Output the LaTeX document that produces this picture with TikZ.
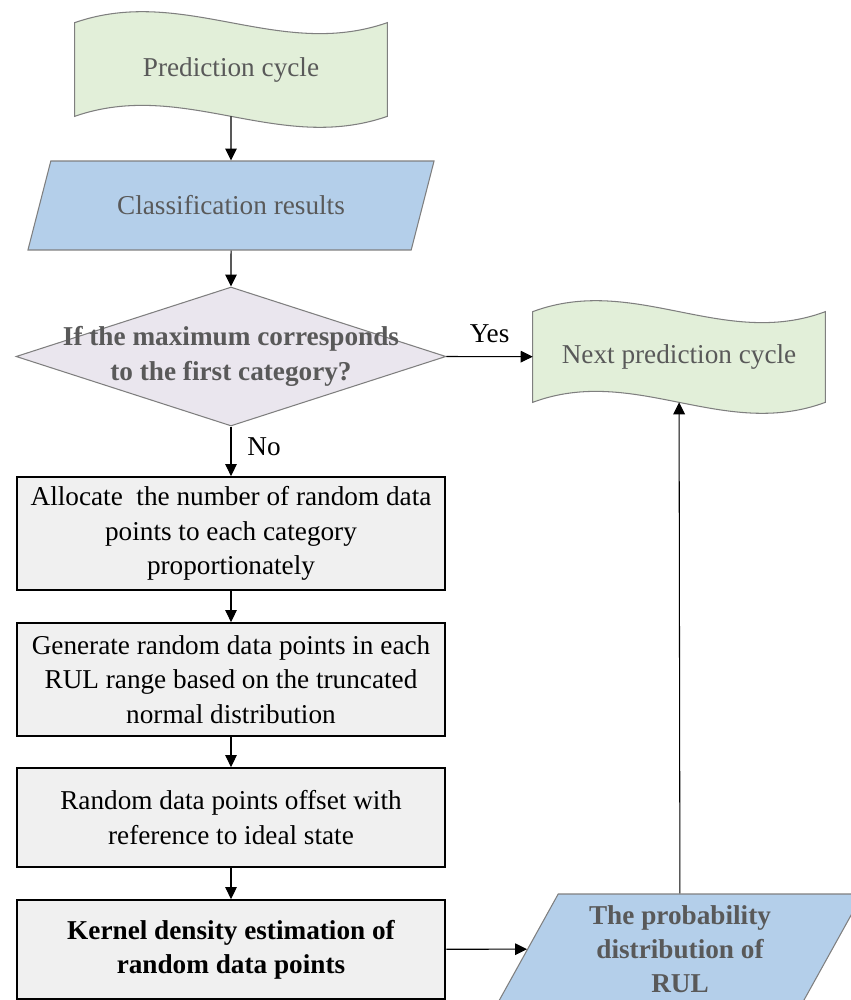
\documentclass[tikz,border=0pt]{standalone}
\usepackage{fontspec}
\setmainfont{Liberation Serif}
\usetikzlibrary{arrows.meta,positioning,shapes.geometric}

\definecolor{wavefill}{HTML}{E2EFD9}
\definecolor{datafill}{HTML}{B4CFEA}
\definecolor{condfill}{HTML}{EAE6EE}
\definecolor{boxfill}{HTML}{F0F0F0}
\definecolor{edge}{HTML}{7F7F7F}
\definecolor{soft}{HTML}{595959}

\pgfdeclarelayer{background}
\pgfsetlayers{background,main}

\begin{document}
\begin{tikzpicture}[
        x=0.02cm, y=-0.02cm,
        every node/.style={font=\fontsize{15.5}{19.5}\selectfont, align=center},
        wave/.style={rectangle, text=soft, minimum width=6.24cm, minimum height=1.86cm},
        waveline/.style={draw=edge, fill=wavefill, line width=0.6pt},
        data/.style={trapezium, trapezium left angle=64, trapezium right angle=116,
            trapezium stretches=true, draw=edge, fill=datafill, line width=0.6pt,
            text=soft},
        cond/.style={diamond, draw=edge, fill=condfill, line width=0.6pt,
            minimum width=8.6cm, minimum height=2.78cm, inner sep=0pt},
        condtext/.style={text=soft, align=center,
            font=\bfseries\fontsize{15.5}{19.5}\selectfont},
        box/.style={rectangle, draw=black, fill=boxfill, line width=1.1pt,
            minimum width=8.58cm, minimum height=2.26cm},
        flow/.style={-{Triangle[length=6.8pt,width=6.6pt]}, line width=0.6pt, black},
    ]
    \useasboundingbox (0,0) rectangle (851,1000);
    \clip (0,0) rectangle (851,1000);
    % top part
    \node[wave] (cyc) at (231,69.5) {Prediction cycle};
    \node[data, minimum width=8.14cm, minimum height=1.78cm] (cls) at (231,205.5)
        {Classification results};
    \node[cond, label={[condtext]center:{If the maximum corresponds\\to the first category?}}]
        (ask) at (231,356.5) {};
    \node[wave, minimum width=5.84cm, minimum height=1.8cm] (next) at (679,357)
        {Next prediction cycle};

    % wavy outlines behind the two cycle nodes
    \begin{pgfonlayer}{background}
        \foreach \n/\c in {cyc/109, next/102}
            \draw[waveline] (\n.north west) .. controls +(\c,-38) and +(-\c,38) .. (\n.north east)
                -- (\n.south east) .. controls +(-\c,38) and +(\c,-38) .. (\n.south west) -- cycle;
    \end{pgfonlayer}

    % processing steps
    \node[box] (alloc) at (231,533.5)
        {Allocate\ \ the number of random data\\points to each category\\proportionately};
    \node[box] (gen) at (231,679.5)
        {Generate random data points in each\\RUL range based on the truncated\\normal distribution};
    \node[box, minimum height=1.98cm] (shift) at (231,817.5)
        {Random data points offset with\\reference to ideal state};
    \node[box, minimum height=1.98cm, font=\bfseries\fontsize{15.5}{19.5}\selectfont] (kde) at (231,949.5)
        {Kernel density estimation of\\random data points};
    \node[data, minimum width=7.32cm, minimum height=2.2cm,
        font=\bfseries\fontsize{15.5}{19.5}\selectfont] (prob) at (680,949)
        {The probability\\distribution of\\RUL};

    % connectors
    \draw[flow] (cyc) -- (cls);
    \draw[flow] (cls) -- (ask);
    \draw[flow] (ask.east) -- node[above=0.15cm] {Yes} (next);
    \draw[flow] (ask.south) -- node[pos=0.4, right=0.2cm] {No} (alloc);
    \draw[flow] (alloc) -- (gen);
    \draw[flow] (gen) -- (shift);
    \draw[flow] (shift) -- (kde);
    \draw[flow] (kde) -- (prob);
    \draw[flow] (prob) -- (next);
\end{tikzpicture}
\end{document}
